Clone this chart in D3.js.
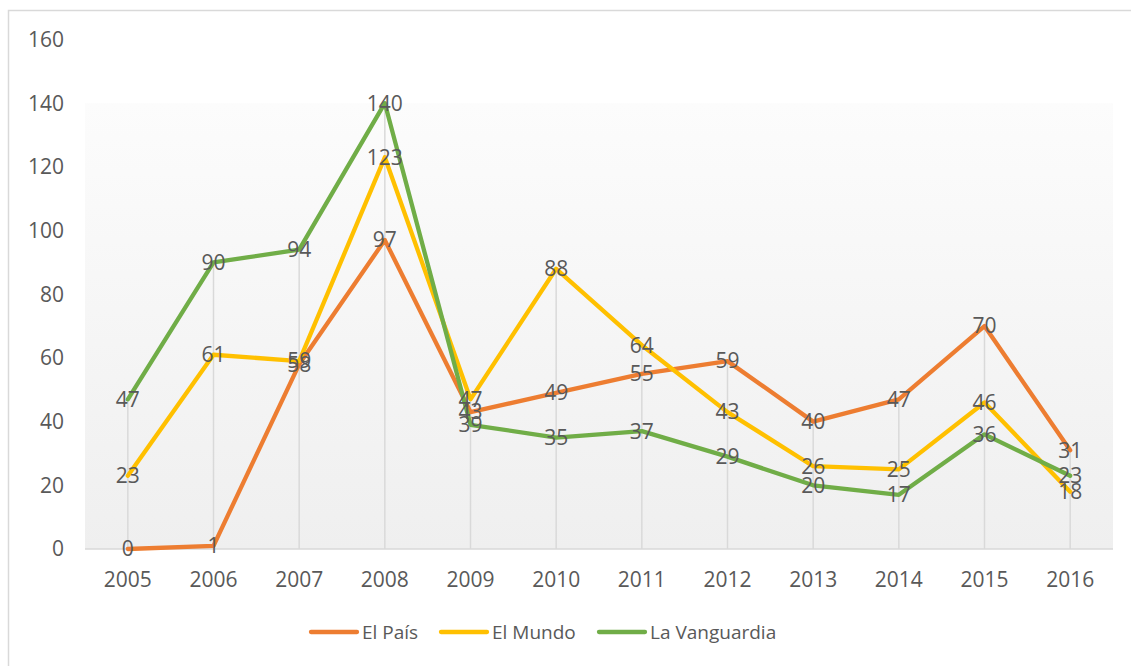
<!DOCTYPE html>
<html lang="es">
  <head>
    <meta charset="UTF-8">
    <script src="https://d3js.org/d3.v7.min.js"></script>
    <style>
      html,body{
        margin: 0px;
        background: #fff;
      }
      svg text{
        font-family: "Open Sans", "Liberation Sans", sans-serif;
        fill: #595959;
      }
    </style>
  </head>
  <body>
    <svg id="chart" width="1131" height="666"></svg>
  </body>
</html>
<script>
// datos
var years = ["2005","2006","2007","2008","2009","2010","2011","2012","2013","2014","2015","2016"];
var elPais = [0, 1, 58, 97, 43, 49, 55, 59, 40, 47, 70, 31];
var elMundo = [23, 61, 59, 123, 47, 88, 64, 43, 26, 25, 46, 18];
var laVanguardia = [47, 90, 94, 140, 39, 35, 37, 29, 20, 17, 36, 23];
var yTicks = [0, 20, 40, 60, 80, 100, 120, 140, 160];

var series = [
  {name: "El País", values: elPais, color: "#ED7D31"},
  {name: "El Mundo", values: elMundo, color: "#FFC000"},
  {name: "La Vanguardia", values: laVanguardia, color: "#70AD47"}
];

var svg = d3.select("#chart");
var plotLeft = 85, plotRight = 1113, plotTop = 39.5, plotBottom = 549;

var x = d3.scaleBand().domain(years).range([plotLeft, plotRight]);
var y = d3.scaleLinear().domain([0, 160]).range([plotBottom, plotTop]);
var cx = d => x(d) + x.bandwidth() / 2;

// borde del gráfico
svg.append("rect")
    .attr("x", 8.5).attr("y", 10.5)
    .attr("width", 1140).attr("height", 700)
    .attr("fill", "none").attr("stroke", "#d9d9d9").attr("stroke-width", 1.5);

// fondo con degradado
var grad = svg.append("defs").append("linearGradient")
    .attr("id", "bg").attr("x1", 0).attr("y1", 0).attr("x2", 0).attr("y2", 1);
grad.append("stop").attr("offset", "0%").attr("stop-color", "#fcfcfc");
grad.append("stop").attr("offset", "100%").attr("stop-color", "#efefef");

svg.append("rect")
    .attr("x", plotLeft).attr("y", y(140))
    .attr("width", plotRight - plotLeft).attr("height", plotBottom - y(140))
    .attr("fill", "url(#bg)");

// líneas de referencia verticales
svg.append("g").selectAll("line")
    .data(years)
    .join("line")
    .attr("x1", cx)
    .attr("x2", cx)
    .attr("y1", (d, i) => y(d3.max(series, s => s.values[i])))
    .attr("y2", plotBottom)
    .attr("stroke", "#d9d9d9").attr("stroke-width", 1.5);

// eje x
svg.append("line")
    .attr("x1", plotLeft).attr("x2", plotRight)
    .attr("y1", plotBottom).attr("y2", plotBottom)
    .attr("stroke", "#d9d9d9").attr("stroke-width", 1.5);

svg.append("g").selectAll("text")
    .data(years)
    .join("text")
    .attr("x", cx)
    .attr("y", 580)
    .attr("dy", "0.35em")
    .attr("text-anchor", "middle")
    .attr("font-size", 21)
    .text(d => d);

// eje y
svg.append("g").selectAll("text")
    .data(yTicks)
    .join("text")
    .attr("x", 64)
    .attr("y", d => y(d))
    .attr("dy", "0.35em")
    .attr("text-anchor", "end")
    .attr("font-size", 21)
    .text(d => d);

// series
var line = d3.line()
    .x((d, i) => cx(years[i]))
    .y(d => y(d));

series.forEach(function(s) {
  svg.append("path")
      .attr("d", line(s.values))
      .attr("fill", "none")
      .attr("stroke", s.color)
      .attr("stroke-width", 4.3)
      .attr("stroke-linejoin", "round")
      .attr("stroke-linecap", "round");
});

// etiquetas de datos
series.forEach(function(s) {
  svg.append("g").selectAll("text")
      .data(s.values)
      .join("text")
      .attr("x", (d, i) => cx(years[i]))
      .attr("y", d => y(d))
      .attr("dy", "0.35em")
      .attr("text-anchor", "middle")
      .attr("font-size", 21)
      .text(d => d);
});

// leyenda
var legendX = [311, 441, 599];
var lg = svg.append("g").selectAll("g")
    .data(series)
    .join("g")
    .attr("transform", (d, i) => "translate(" + legendX[i] + ",632)");
lg.append("line")
    .attr("x1", 0).attr("x2", 46)
    .attr("stroke", d => d.color)
    .attr("stroke-width", 4.3)
    .attr("stroke-linecap", "round");
lg.append("text")
    .attr("x", 51)
    .attr("dy", "0.35em")
    .attr("font-size", 19)
    .text(d => d.name);
</script>
